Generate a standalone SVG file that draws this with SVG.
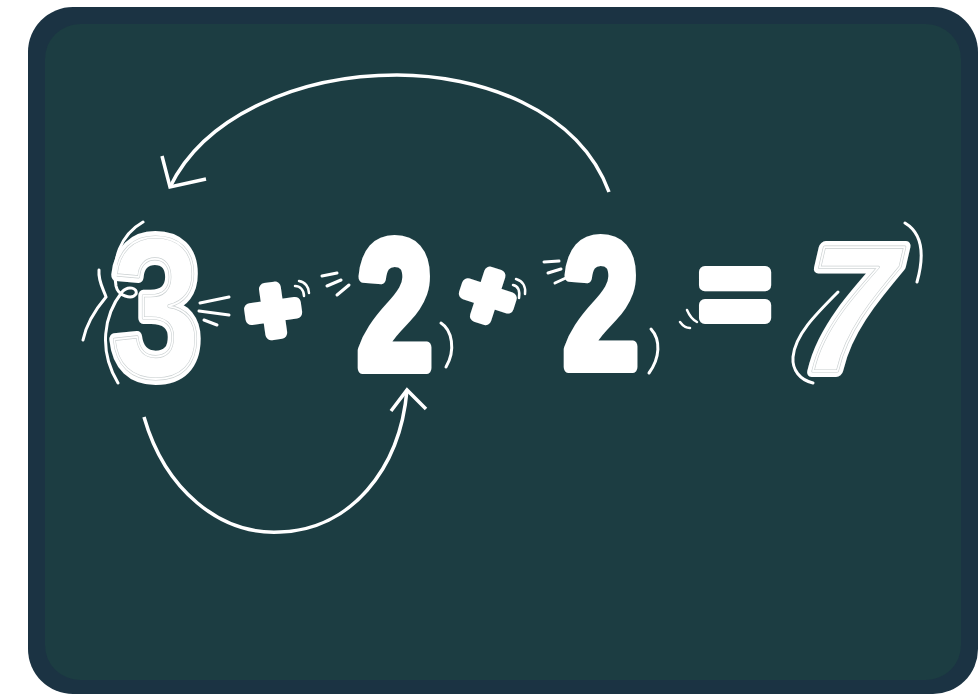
<svg xmlns="http://www.w3.org/2000/svg" width="978" height="695" viewBox="0 0 978 695">
<style>
.dg{font-family:"Liberation Sans",Arial,sans-serif;font-weight:bold;fill:#fff;stroke:#fff;stroke-width:12;stroke-linejoin:round;paint-order:stroke}
.in1{font-family:"Liberation Sans",Arial,sans-serif;font-weight:bold;fill:none;stroke:#c9cfd0;stroke-width:3.2;stroke-linejoin:round}
.in2{font-family:"Liberation Sans",Arial,sans-serif;font-weight:bold;fill:none;stroke:#fff;stroke-width:1.8;stroke-linejoin:round}
.ln{fill:none;stroke:#fff;stroke-width:3;stroke-linecap:round}
.ln2{fill:none;stroke:#fff;stroke-width:2.5;stroke-linecap:round}
.arr{fill:none;stroke:#fff;stroke-width:3.5;stroke-linecap:butt;stroke-linejoin:miter}
</style>
<rect width="978" height="695" fill="#fff"/>
<g id="board">
<rect x="28" y="7" width="950" height="687" rx="45" fill="#1b3343"/>
<rect x="45" y="24" width="916" height="656" rx="35" fill="#1c3d42"/>
</g>
<g id="connectors">
<path class="arr" d="M609,192 C578,108 478,75 397,75 C300,75 205,115 170,187"/>
<path class="arr" d="M162,156 L170,187 L206,179"/>
<path class="arr" d="M144,417 C165,490 220,535 280,532 C350,530 400,470 407,390"/>
<path class="arr" d="M391,411 L407,390 L426,409"/>
</g>
<g id="digit-3">
<g transform="translate(156,377) scale(0.82,1)">
<text class="dg" x="0" y="0" font-size="200" text-anchor="middle">3</text>
<text class="in1" x="0" y="0" font-size="200" text-anchor="middle">3</text>
<text class="in2" x="0" y="0" font-size="200" text-anchor="middle">3</text>
</g>
<path class="ln" d="M143,222 C120,235 112,260 116,286 C118,296 132,300 136,294 C138,288 128,285 122,292 C104,315 98,350 118,383"/>
<path class="ln" d="M99,270 C98,282 104,290 106,297 C95,310 86,325 83,340"/>
</g>
<g id="plus-1">
<g transform="translate(273,310) rotate(-8)">
<text class="dg" x="0" y="31" font-size="90" text-anchor="middle">+</text>
</g>
<path class="ln" d="M200,303 L229,297"/>
<path class="ln" d="M199,311 L229,315"/>
<path class="ln" d="M204,320 L217,325"/>
<path class="ln2" d="M295,286 C300,286 304,290 304,296"/>
<path class="ln2" d="M299,281 C305,282 309,287 309,293"/>
</g>
<g id="digit-2a">
<path class="ln" d="M322,276 L337,273"/>
<path class="ln" d="M327,286 L341,280"/>
<path class="ln" d="M337,295 L349,285"/>
<g transform="translate(395,368) scale(0.74,1)">
<text class="dg" x="0" y="0" font-size="182" text-anchor="middle">2</text>
</g>
<path class="ln" d="M441,323 C452,330 456,350 446,367"/>
</g>
<g id="plus-2">
<g transform="translate(488,295) rotate(18)">
<text class="dg" x="0" y="31" font-size="90" text-anchor="middle">+</text>
</g>
<path class="ln2" d="M513,285 C518,286 520,291 519,298"/>
<path class="ln2" d="M516,279 C523,281 526,287 525,294"/>
</g>
<g id="digit-2b">
<path class="ln" d="M544,262 L559,261"/>
<path class="ln" d="M548,273 L561,269"/>
<path class="ln" d="M555,283 L568,277"/>
<g transform="translate(601,367) scale(0.74,1)">
<text class="dg" x="0" y="0" font-size="182" text-anchor="middle">2</text>
</g>
<path class="ln" d="M651,329 C661,340 660,358 649,373"/>
</g>
<g id="equals">
<path class="ln2" d="M687,310 C690,317 693,320 697,322"/>
<path class="ln2" d="M680,322 C683,326 686,328 690,328"/>
<text class="dg" x="735" y="335" font-size="120" text-anchor="middle">=</text>
</g>
<g id="digit-7">
<g transform="translate(836,371) skewX(-13) scale(0.95,1)">
<text class="dg" x="0" y="0" font-size="180" text-anchor="middle">7</text>
<text class="in1" x="0" y="0" font-size="180" text-anchor="middle">7</text>
<text class="in2" x="0" y="0" font-size="180" text-anchor="middle">7</text>
</g>
<path class="ln" d="M838,292 C815,315 795,335 793,357 C792,370 800,380 813,383"/>
<path class="ln" d="M905,223 C920,232 926,250 917,282"/>
</g>
</svg>
